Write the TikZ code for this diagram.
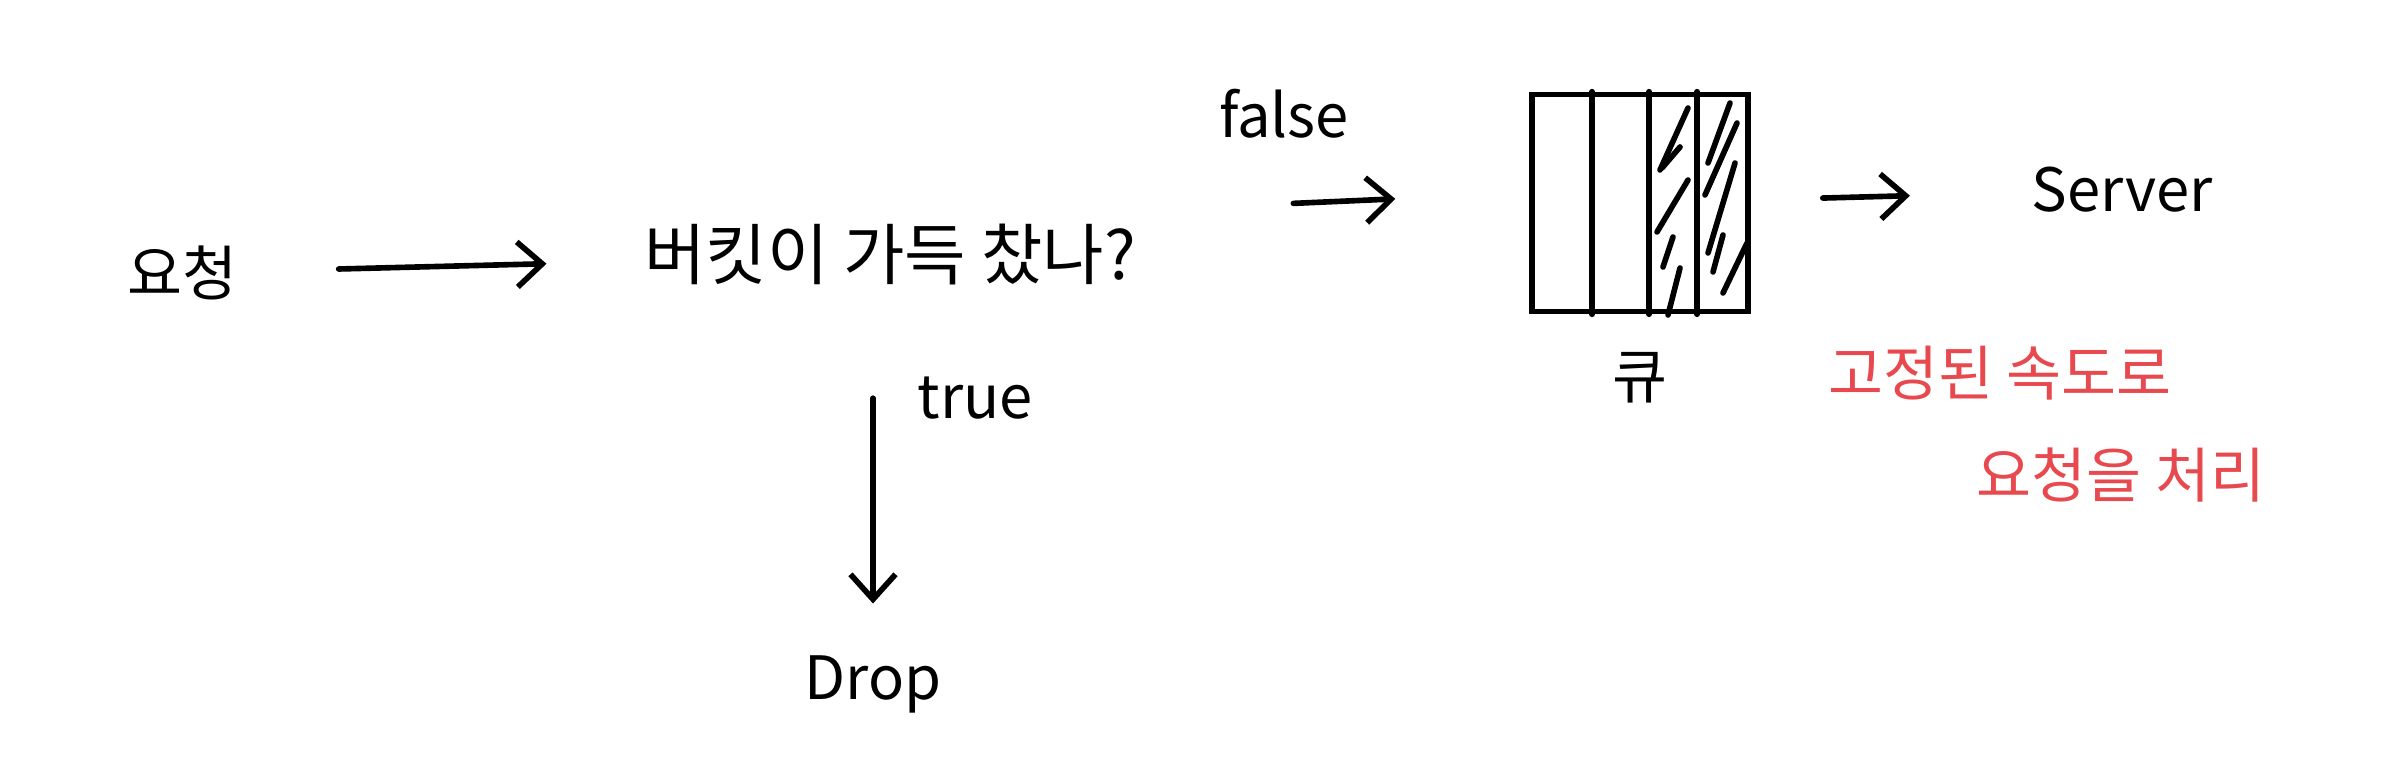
\documentclass[tikz,border=0pt]{standalone}
\usepackage{fontspec}
\setmainfont{Noto Sans CJK KR}
\usetikzlibrary{arrows.meta, positioning}
\definecolor{inkred}{HTML}{E8494E}
\colorlet{ink}{black}
\tikzset{
  hand/.style={font=\fontsize{17}{20}\selectfont, inner sep=2pt, text=ink},
  note/.style={hand, text=inkred},
  flow/.style={draw=ink, line width=1.6pt, line cap=round, -{Straight Barb[length=2.5mm, width=4.5mm]}},
  stroke/.style={draw=ink, line width=1.6pt, line cap=round},
}

\begin{document}
\begin{tikzpicture}
  \useasboundingbox (0,0) rectangle (23.82,7.80);

  % Request and the bucket check
  \node[hand] (req) at (1.82,5.07) {요청};
  \node[hand, font=\fontsize{19}{22}\selectfont] (ask) at (8.90,5.25) {버킷이 가득 찼나?};
  \draw[flow, shorten <=9.4mm, shorten >=9mm] (req) -- (ask);

  % Queue
  \node[stroke, minimum width=2.16cm, minimum height=2.17cm] (queue) at (16.40,5.77) {};
  \node[hand, below=0.3 of queue] (qlabel) {큐};
  \foreach \x in {0.63,1.20,1.68} {
    \draw[stroke] ([xshift=\x cm]queue.south west) -- ([xshift=\x cm]queue.north west);
  }
  \foreach \a/\b/\c/\d in {16.60/6.10/16.88/6.72, 16.62/6.12/16.80/6.33, 16.57/5.48/16.88/6.00,
                           16.63/5.13/16.73/5.43, 16.68/4.65/16.80/5.12,
                           17.08/6.17/17.30/6.77, 17.05/5.85/17.37/6.57, 17.08/5.27/17.35/6.17,
                           17.13/5.08/17.23/5.45, 17.23/4.87/17.47/5.37} {
    \draw[stroke] (\a,\b) -- (\c,\d);
  }

  % false: into the queue
  \node[hand] (lfalse) at (12.84,6.66) {false};
  \draw[flow, shorten <=15mm, shorten >=13.4mm] ([yshift=4.5mm]ask.east) -- ([yshift=1mm]queue.west);

  % true: dropped
  \node[hand] (drop) at (8.73,0.96) {Drop};
  \node[hand] (ltrue) at (9.75,3.82) {true};
  \draw[flow, shorten <=10.5mm, shorten >=4.4mm] (drop.north |- ask.south) -- (drop.north);

  % Server
  \node[hand] (server) at (21.22,5.90) {Server};
  \draw[flow, shorten <=7.2mm, shorten >=11.4mm] (queue) -- (server);

  % Note
  \node[note] (note1) at (20.00,4.07) {고정된 속도로};
  \node[note] (note2) at (21.21,3.05) {요청을 처리};
\end{tikzpicture}
\end{document}
